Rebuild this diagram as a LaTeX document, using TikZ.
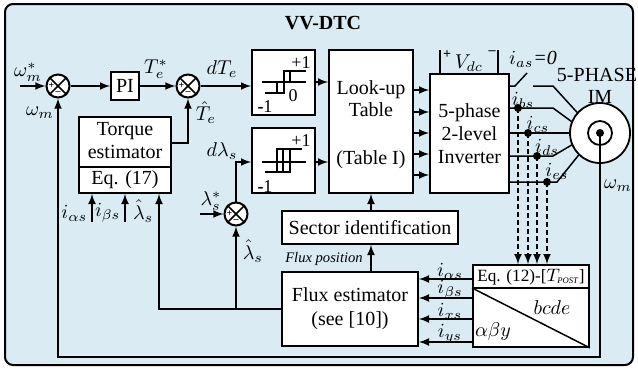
\documentclass[tikz,border=0pt]{standalone}
\usepackage{fontspec}
\setmainfont{Liberation Serif}
\usetikzlibrary{calc}
\definecolor{panelblue}{RGB}{218,235,243}
\tikzset{
  block/.style={draw,fill=white,line width=0.9pt,inner sep=0pt,align=center},
  sumnode/.style={circle,draw,fill=white,line width=1pt,minimum size=11.5pt,inner sep=0pt},
  sense/.style={dash pattern=on 2.5pt off 1.5pt,-latex},
  small/.style={font=\fontsize{9}{10}\selectfont,inner sep=0pt}
}
\newcommand{\sumpt}[2]{%
  \node[sumnode] (#1) at (#2) {};
  \draw (#1.north west) -- (#1.south east) (#1.north east) -- (#1.south west);
  \node[font=\tiny\bfseries,inner sep=0pt] at ([xshift=3pt]#1.west) {+};
  \node[font=\tiny\bfseries,inner sep=0pt] at ([yshift=2.8pt]#1.south) {--};
}
\begin{document}
\begin{tikzpicture}[x=0.5pt,y=-0.5pt,line width=0.75pt,font=\fontsize{10}{11}\selectfont]
\useasboundingbox (0,0) rectangle (638,371);
\draw[fill=panelblue,line width=1pt,rounded corners=4pt] (5,4) rectangle (633,365);
\node[font=\fontsize{10}{11}\selectfont\bfseries] (title) at (323,23) {VV-DTC};

% speed and torque loop
\coordinate (wref) at (20,86);
\sumpt{s1}{58,86}
\node[block,minimum width=14pt,minimum height=14pt] (pi) at (125,86) {PI};
\sumpt{s2}{188,86}
\draw[-latex] (wref) -- (s1.west);
\draw[-latex] (s1.east) -- (pi.west);
\draw[-latex] (pi.east) -- (s2.west);
\node (wreflbl) at (28,72) {$\omega_m^*$};
\node (tereflbl) at (156,69) {$T_e^*$};
\node (wmlbl) at (40,113) {$\omega_m$};
\node[anchor=west,inner sep=1pt] (tehatlbl) at (193,113) {$\hat{T}_e$};

% torque estimator
\node[block,minimum width=46pt,minimum height=38pt] (tq) at (125,155) {};
\draw[line width=0.9pt] (tq.west |- 0,167) -- (tq.east |- 0,167);
\node (tqtxt) at (125,141) [align=center,font=\fontsize{10}{11.5}\selectfont] {Torque\\estimator};
\node (tqeq) at (125,180) {Eq. (17)};
\draw[-latex] (tq.east |- 0,143) -| (s2.south);
\coordinate (ia) at (92,222);
\coordinate (ib) at (125,222);
\draw[-latex] (ia) -- (tq.south -| ia);
\draw[-latex] (ib) -- (tq.south -| ib);
\node[anchor=east,inner sep=1pt] (ialbl) at (90,213) {$i_{\alpha s}$};
\node[anchor=east,inner sep=1pt] (iblbl) at (123,213) {$i_{\beta s}$};
\node[anchor=east,inner sep=1pt] (lhlbl) at (156,211) {$\hat{\lambda}_s$};

% hysteresis controllers
\node[block,minimum width=31.5pt,minimum height=32.5pt] (hy1) at (283.5,82.5) {};
\node[block,minimum width=31.5pt,minimum height=32.5pt] (hy2) at (283.5,160.5) {};
\draw (262,82) -- (306,82);
\draw (284,82) -- (284,71) -- (306,71);
\draw (290,82) -- (290,71);
\draw (284,82) -- (284,93) -- (265,93);
\draw (277,82) -- (277,93);
\node[small] (p1) at (301,63) {+1};
\node[small] (z1) at (293,96) {0};
\node[small] (m1) at (265,107) {\textbf{-}1};
\draw (262,162) -- (306,162);
\draw (277,172) -- (277,149) -- (302,149);
\draw (290,149) -- (290,172) -- (265,172);
\draw (283,149) -- (283,172);
\node[small] (p2) at (301,141) {+1};
\node[small] (m2) at (265,187) {\textbf{-}1};
\draw[-latex] (s2.east) -- (hy1.west |- s2.east);
\node (dtelbl) at (222,69) {$dT_e$};

% flux loop
\sumpt{s3}{236,214}
\coordinate (lref) at (200,214);
\draw[-latex] (lref) -- (s3.west);
\draw[-latex] (s3.north) |- (hy2.west |- 0,162);
\node (dllbl) at (222,151) {$d\lambda_s$};
\node (lreflbl) at (211,201) {$\lambda_s^*$};
\node[anchor=west,inner sep=1pt] (lhatlbl) at (240,251) {$\hat{\lambda}_s$};

% look-up table and inverter
\node[block,minimum width=42pt,minimum height=71.5pt] (lut) at (371,121.5) {};
\node (luttxt) at (371,99) [align=center] {Look-up\\Table};
\node (luttbl) at (371,160) {(Table I)};
\draw[-latex] (hy1.east |- 0,82) -- (lut.west |- 0,82);
\draw[-latex] (hy2.east |- 0,162) -- (lut.west |- 0,162);
\node[block,minimum width=39.5pt,minimum height=59.5pt] (inv) at (469.5,133.5) [font=\fontsize{10}{11.5}\selectfont] {5-phase\\2-level\\Inverter};
\foreach \y in {90,112,133,154,175}
  \draw[-latex] (lut.east |- 0,\y) -- (inv.west |- 0,\y);
\draw (inv.north -| 440,0) -- (440,50);
\draw (inv.north -| 498,0) -- (498,50);
\node[font=\scriptsize\bfseries,inner sep=0pt] (vp) at (447,55) {+};
\node[font=\scriptsize\bfseries,inner sep=0pt] (vm) at (492,53) {--};
\node (vdclbl) at (469,63) {$V_{dc}$};

% sector and flux estimator
\node[block,minimum width=88pt,minimum height=16.5pt] (sec) at (370,227.5) {Sector identification};
\node[block,minimum width=68pt,minimum height=37pt] (flux) at (350,309) [font=\fontsize{10}{12}\selectfont] {Flux estimator\\(see [10])};
\draw[-latex] (sec.north -| lut.south) -- (lut.south);
\draw[-latex] (flux.north -| lut.south) -- (sec.south -| lut.south);
\node[font=\fontsize{7.3}{8}\selectfont\itshape] (fpos) at (324,259) {Flux position};
\draw[-latex] (flux.west) -| (tq.south -| 159,0);
\draw[-latex] (s3.south |- flux.west) -- (s3.south);

% motor
\node[circle,draw,fill=white,line width=0.9pt,minimum size=30pt] (im) at (600,133) {};
\node[circle,draw,line width=0.9pt,minimum size=12pt] (rotor) at (im.center) {};
\fill (im.center) circle (2pt);
\node (imlbl1) at (597,75) {5-PHASE};
\node (imlbl2) at (600,97) {IM};
\draw (inv.east |- 0,86) -- (515,86) -- (527,73);
\draw (533,86) -- (553,86) -- (im.138);
\node (iaslbl) at (533,59) {$i_{as}$\textit{=0}};
\draw (inv.east |- 0,108) -- (553,108) -- (im.158);
\draw (inv.east |- 0,133) -- (im.180);
\draw (inv.east |- 0,156) -- (553,156) -- (im.203);
\draw (inv.east |- 0,182) -- (557,182) -- (im.226);
\node (ibslbl) at (523,100) {$i_{bs}$};
\node (icslbl) at (538,124) {$i_{cs}$};
\node (idslbl) at (547,147) {$i_{ds}$};
\node (ieslbl) at (557,171) {$i_{es}$};

% transformation block
\node[block,minimum width=58pt,minimum height=41pt] (trf) at (531,306) {};
\draw[line width=0.9pt] (trf.west |- 0,288) -- (trf.east |- 0,288);
\draw (trf.west |- 0,288) -- (trf.south east);
\node[font=\fontsize{8.6}{9}\selectfont] (trftxt) at (531,277) {Eq. (12)-[$T_{\scriptscriptstyle\mathit{POST}}$]};
\node (bcde) at (552,308) {$bcde$};
\node (aby) at (493,331) {$\alpha\beta y$};
\foreach \x/\y in {518/108,528/133,537/156,547/182} {
  \fill (\x,\y) circle (2pt);
  \draw[sense] (\x,\y) -- (trf.north -| \x,0);
}
\foreach \y/\lab in {279/\alpha s,298/\beta s,319/xs,342/ys} {
  \draw[-latex] (trf.west |- 0,\y) -- (flux.east |- 0,\y);
  \node at (450,\y-8) {$i_{\lab}$};
}

% speed feedback
\coordinate (shaft) at (600,357);
\draw[-latex] (im.center) -- (shaft) -| (s1.south);
\node (wmlbl2) at (618,186) {$\omega_m$};
\end{tikzpicture}
\end{document}
